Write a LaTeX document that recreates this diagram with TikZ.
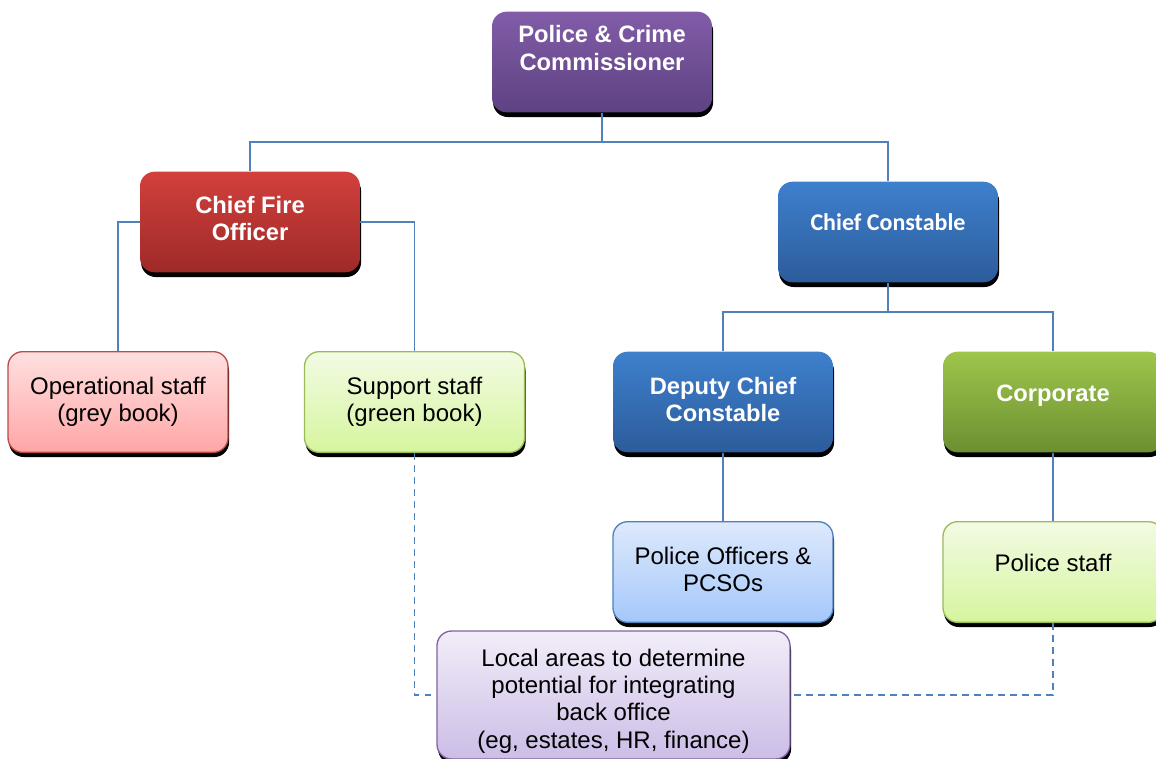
\documentclass[tikz,border=0pt]{standalone}
\usepackage{fontspec}
\setmainfont{Liberation Sans}
\newfontfamily\calfont{Carlito}
\usetikzlibrary{shadows}
\definecolor{conncol}{RGB}{79,129,189}
\definecolor{purT}{RGB}{130,92,168}
\definecolor{purB}{RGB}{94,66,130}
\definecolor{redT}{RGB}{210,64,60}
\definecolor{redB}{RGB}{158,42,40}
\definecolor{bluT}{RGB}{62,128,205}
\definecolor{bluB}{RGB}{44,92,155}
\definecolor{grnT}{RGB}{158,198,76}
\definecolor{grnB}{RGB}{108,143,48}
\definecolor{pinkT}{RGB}{255,224,224}
\definecolor{pinkB}{RGB}{255,166,166}
\definecolor{pinkD}{RGB}{190,75,72}
\definecolor{lgT}{RGB}{242,251,228}
\definecolor{lgB}{RGB}{214,245,158}
\definecolor{lgD}{RGB}{155,187,89}
\definecolor{lbT}{RGB}{222,233,252}
\definecolor{lbB}{RGB}{164,200,250}
\definecolor{lbD}{RGB}{79,129,189}
\definecolor{lpT}{RGB}{242,237,249}
\definecolor{lpB}{RGB}{204,189,230}
\definecolor{lpD}{RGB}{128,100,162}
\tikzset{
  box/.style={rectangle, rounded corners=11pt, minimum width=165pt, minimum height=75.5pt, inner sep=0pt,
    drop shadow={shadow xshift=0.8pt, shadow yshift=-3.5pt, opacity=1, fill=black}},
  darkbox/.style={box, draw=none},
  lightbox/.style={box, line width=1pt},
  wtext/.style={text=white, font=\fontsize{17.8}{20.5}\selectfont\bfseries, align=center},
  btext/.style={text=black, font=\fontsize{18}{20.5}\selectfont, align=center},
  conn/.style={draw=conncol, line width=1.4pt},
  dconn/.style={conn, dash pattern=on 5pt off 4pt}
}
\begin{document}
\begin{tikzpicture}[x=0.75pt, y=-0.75pt]
\useasboundingbox (0,0) rectangle (1156,758);
% boxes
\node[darkbox, top color=purT, bottom color=purB] (pcc) at (602,62) {};
\node[darkbox, top color=redT, bottom color=redB] (cfo) at (250,222) {};
\node[darkbox, top color=bluT, bottom color=bluB] (cc) at (888,232) {};
\node[lightbox, draw=pinkD, top color=pinkT, bottom color=pinkB] (ops) at (118,402) {};
\node[lightbox, draw=lgD, top color=lgT, bottom color=lgB] (sup) at (414.5,402) {};
\node[darkbox, top color=bluT, bottom color=bluB] (dcc) at (723,402) {};
\node[darkbox, top color=grnT, bottom color=grnB] (corp) at (1053,402) {};
\node[lightbox, draw=lbD, top color=lbT, bottom color=lbB] (poff) at (723,572) {};
\node[lightbox, draw=lgD, top color=lgT, bottom color=lgB] (pstaff) at (1053,572) {};
% connectors
\draw[conn] (pcc.south) -- ++(0,29) -| (cfo.north);
\draw[conn] (pcc.south) -- ++(0,29) -| (cc.north);
\draw[conn] (cfo.west) -| (ops.north);
\draw[conn] (cfo.east) -| (sup.north);
\draw[conn] (cc.south) -- ++(0,29) -| (dcc.north);
\draw[conn] (cc.south) -- ++(0,29) -| (corp.north);
\draw[conn] (dcc.south) -- (poff.north);
\draw[conn] (corp.south) -- (pstaff.north);
\node[lightbox, draw=lpD, top color=lpT, bottom color=lpB, minimum width=264.75pt, minimum height=96pt] (local) at (613.5,695) {};
\draw[dconn] (sup.south) |- (local.west);
\draw[dconn] (pstaff.south) |- (local.east);
% texts
\node[wtext] (pcct) at (602,48) {Police \& Crime\\Commissioner};
\node[wtext] (cfot) at (250,218.5) {Chief Fire\\Officer};
\node[text=white, font=\fontsize{18}{21}\selectfont\calfont\bfseries] (cct) at (888,222) {Chief Constable};
\node[btext] (opst) at (118,401.5) {Operational staff\\(grey book)};
\node[btext] (supt) at (414.5,401.5) {Support staff\\(green book)};
\node[wtext] (dcct) at (723,399.5) {Deputy Chief\\Constable};
\node[wtext] (corpt) at (1053,395.5) {Corporate};
\node[btext] (pofft) at (723,569.5) {Police Officers \&\\PCSOs};
\node[btext] (pstafft) at (1053,563) {Police staff};
\node[btext] (localt) at (613.5,701) {Local areas to determine\\potential for integrating\\back office\\(eg, estates, HR, finance)};
\end{tikzpicture}
\end{document}
